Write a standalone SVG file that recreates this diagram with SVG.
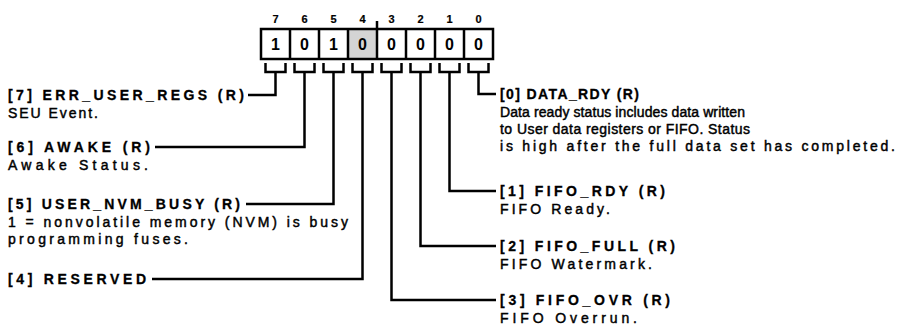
<svg xmlns="http://www.w3.org/2000/svg" width="897" height="328" viewBox="0 0 897 328">
<style>
.h{font-family:"Liberation Sans",Arial,sans-serif;font-weight:bold;font-size:14px;fill:#000;stroke:#000;stroke-width:0.3}
.d{font-family:"Liberation Sans",Arial,sans-serif;font-size:14px;fill:#000;stroke:#000;stroke-width:0.45}
.bn{font-family:"Liberation Sans",Arial,sans-serif;font-weight:bold;font-size:11px;fill:#000;text-anchor:middle;stroke:#000;stroke-width:0.2}
.bv{font-family:"Liberation Sans",Arial,sans-serif;font-weight:bold;font-size:16px;fill:#000;text-anchor:middle}
.ln{fill:none;stroke:#000;stroke-width:2.5}
</style>
<rect width="897" height="328" fill="#fff"/>
<g id="register">
<rect x="348" y="29" width="29" height="30" fill="#d4d4d4"/>
<rect x="261" y="29" width="232" height="30" class="ln"/>
<path class="ln" d="M290,29V59M319,29V59M348,29V59M377,29V59M406,29V59M435,29V59M464,29V59M377,21V29"/>
<g class="bn">
<text x="275.5" y="23">7</text><text x="304.5" y="23">6</text><text x="333.5" y="23">5</text><text x="362.5" y="23">4</text>
<text x="391.5" y="23">3</text><text x="420.5" y="23">2</text><text x="449.5" y="23">1</text><text x="478.5" y="23">0</text>
</g>
<g class="bv">
<text x="275.5" y="50">1</text><text x="304.5" y="50">0</text><text x="333.5" y="50">1</text><text x="362.5" y="50">0</text>
<text x="391.5" y="50">0</text><text x="420.5" y="50">0</text><text x="449.5" y="50">0</text><text x="478.5" y="50">0</text>
</g>
</g>
<g id="connectors" class="ln">
<path d="M265.5,63V72H285.5V63M294.5,63V72H314.5V63M323.5,63V72H343.5V63M352.5,63V72H372.5V63M381.5,63V72H401.5V63M410.5,63V72H430.5V63M439.5,63V72H459.5V63M468.5,63V72H488.5V63"/>
<path d="M275.5,72V95H248"/>
<path d="M304.5,72V147H155"/>
<path d="M333.5,72V204H246"/>
<path d="M362.5,72V279H152"/>
<path d="M391.5,72V300H496"/>
<path d="M420.5,72V246H496"/>
<path d="M449.5,72V191H496"/>
<path d="M478.5,72V94H496"/>
</g>
<g id="bit7"><text class="h" x="8" y="100" textLength="236" lengthAdjust="spacing">[7] ERR_USER_REGS (R)</text><text class="d" x="8" y="118" textLength="90" lengthAdjust="spacing">SEU Event.</text></g>
<g id="bit6"><text class="h" x="8" y="152" textLength="142" lengthAdjust="spacing">[6] AWAKE (R)</text><text class="d" x="8" y="170" textLength="140" lengthAdjust="spacing">Awake Status.</text></g>
<g id="bit5"><text class="h" x="8" y="209" textLength="232" lengthAdjust="spacing">[5] USER_NVM_BUSY (R)</text><text class="d" x="8" y="227" textLength="340" lengthAdjust="spacing">1 = nonvolatile memory (NVM) is busy</text><text class="d" x="8" y="244" textLength="180" lengthAdjust="spacing">programming fuses.</text></g>
<g id="bit4"><text class="h" x="8" y="284" textLength="138" lengthAdjust="spacing">[4] RESERVED</text></g>
<g id="bit0"><text class="h" x="500" y="99" textLength="139" lengthAdjust="spacing">[0] DATA_RDY (R)</text><text class="d" x="500" y="117" textLength="245" lengthAdjust="spacing">Data ready status includes data written</text><text class="d" x="500" y="134" textLength="250" lengthAdjust="spacing">to User data registers or FIFO. Status</text><text class="d" x="500" y="151" textLength="395" lengthAdjust="spacing">is high after the full data set has completed.</text></g>
<g id="bit1"><text class="h" x="500" y="196" textLength="165" lengthAdjust="spacing">[1] FIFO_RDY (R)</text><text class="d" x="500" y="214" textLength="110" lengthAdjust="spacing">FIFO Ready.</text></g>
<g id="bit2"><text class="h" x="500" y="251" textLength="175" lengthAdjust="spacing">[2] FIFO_FULL (R)</text><text class="d" x="500" y="269" textLength="152" lengthAdjust="spacing">FIFO Watermark.</text></g>
<g id="bit3"><text class="h" x="500" y="305" textLength="170" lengthAdjust="spacing">[3] FIFO_OVR (R)</text><text class="d" x="500" y="323" textLength="137" lengthAdjust="spacing">FIFO Overrun.</text></g>
</svg>
